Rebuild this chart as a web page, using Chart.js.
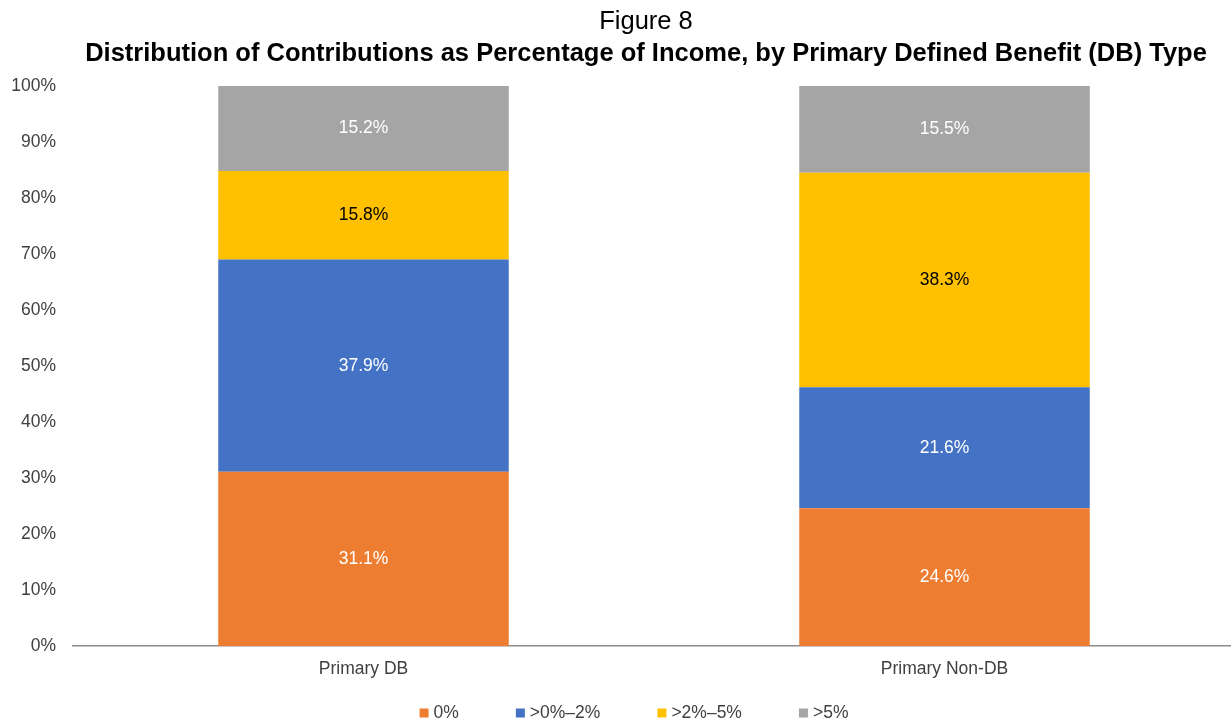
<!DOCTYPE html>
<html>
<head>
<meta charset="utf-8">
<title>Figure 8</title>
<script src="https://cdn.jsdelivr.net/npm/chart.js@4.4.1/dist/chart.umd.min.js"></script>
<style>
  html, body { margin: 0; padding: 0; background: #fff; }
  #wrap { width: 1231px; height: 722px; overflow: hidden; position: relative; }
  canvas { display: block; }
</style>
</head>
<body>
<div id="wrap">
  <canvas id="contribChart" width="1240" height="722"></canvas>
</div>
<script>
// Categories and series (percent of group)
const categories = ["Primary DB", "Primary Non-DB"];
const seriesNames = ["0%", ">0%\u20132%", ">2%\u20135%", ">5%"];
const zeroPct = [31.1, 24.6];
const upTo2Pct = [37.9, 21.6];
const upTo5Pct = [15.8, 38.3];
const over5Pct = [15.2, 15.5];
const yTicks = [0, 10, 20, 30, 40, 50, 60, 70, 80, 90, 100];

const colors = ["#ED7D31", "#4472C4", "#FFC000", "#A5A5A5"];
const labelColors = ["#ffffff", "#ffffff", "#000000", "#ffffff"];
const FONT = "'Liberation Sans', Arial, sans-serif";

const titleText = "Figure 8";
const subtitleText = "Distribution of Contributions as Percentage of Income, by Primary Defined Benefit (DB) Type";

// Titles drawn above the plot area
const titlePlugin = {
  id: "figTitles",
  afterDraw(chart) {
    const ctx = chart.ctx;
    const cx = 646;
    ctx.save();
    ctx.textAlign = "center";
    ctx.textBaseline = "middle";
    ctx.fillStyle = "#000";
    ctx.font = "25.5px " + FONT;
    ctx.fillText(titleText, cx, 22);
    ctx.font = "bold 25.5px " + FONT;
    ctx.fillText(subtitleText, cx, 53.5);
    ctx.restore();
  }
};

// Bottom legend: small square swatch followed by the series name
const bottomLegend = {
  id: "bottomLegend",
  afterDraw(chart) {
    const ctx = chart.ctx;
    const box = 9, gap = 5, spacing = 57, cx = 634, cy = 713;
    ctx.save();
    ctx.font = "17.5px " + FONT;
    ctx.textBaseline = "middle";
    ctx.textAlign = "left";
    const items = chart.data.datasets.map(ds => ({
      text: ds.label,
      color: ds.backgroundColor,
      w: box + gap + ctx.measureText(ds.label).width
    }));
    const total = items.reduce((s, it) => s + it.w, 0) + spacing * (items.length - 1);
    let x = cx - total / 2;
    items.forEach(it => {
      ctx.fillStyle = it.color;
      ctx.fillRect(x, cy - box / 2, box, box);
      ctx.fillStyle = "#404040";
      ctx.fillText(it.text, x + box + gap, cy);
      x += it.w + spacing;
    });
    ctx.restore();
  }
};

// Value labels in the middle of each stacked segment
const valueLabels = {
  id: "valueLabels",
  afterDatasetsDraw(chart) {
    const ctx = chart.ctx;
    ctx.save();
    ctx.font = "17.5px " + FONT;
    ctx.textAlign = "center";
    ctx.textBaseline = "middle";
    chart.data.datasets.forEach((ds, i) => {
      const meta = chart.getDatasetMeta(i);
      meta.data.forEach((bar, j) => {
        const y = (bar.y + bar.base) / 2;
        ctx.fillStyle = labelColors[i];
        ctx.fillText(ds.data[j].toFixed(1) + "%", bar.x, y);
      });
    });
    ctx.restore();
  }
};

const seriesData = [zeroPct, upTo2Pct, upTo5Pct, over5Pct];

const ctx = document.getElementById("contribChart").getContext("2d");
new Chart(ctx, {
  type: "bar",
  data: {
    labels: categories,
    datasets: seriesData.map((d, i) => ({
      label: seriesNames[i],
      data: d,
      backgroundColor: colors[i],
      borderWidth: 0,
      categoryPercentage: 1.0,
      barPercentage: 0.5
    }))
  },
  options: {
    responsive: false,
    animation: false,
    devicePixelRatio: 1,
    layout: { padding: { top: 86, left: 0, right: 5, bottom: 0 } },
    plugins: {
      title: { display: false },
      tooltip: { enabled: false },
      legend: { display: false }
    },
    scales: {
      x: {
        stacked: true,
        grid: { display: false },
        border: { display: true, color: "#8C8C8C", width: 1.5 },
        ticks: { color: "#404040", padding: 5, font: { family: FONT, size: 17.5 } },
        afterFit(scale) { scale.height = 76; }
      },
      y: {
        stacked: true,
        min: yTicks[0],
        max: yTicks[yTicks.length - 1],
        grid: { display: false },
        border: { display: false },
        afterFit(scale) { scale.width = 73; },
        ticks: {
          stepSize: yTicks[1] - yTicks[0],
          color: "#404040",
          padding: 9,
          font: { family: FONT, size: 17.5 },
          callback: v => v + "%"
        }
      }
    }
  },
  plugins: [titlePlugin, valueLabels, bottomLegend]
});
</script>
</body>
</html>
